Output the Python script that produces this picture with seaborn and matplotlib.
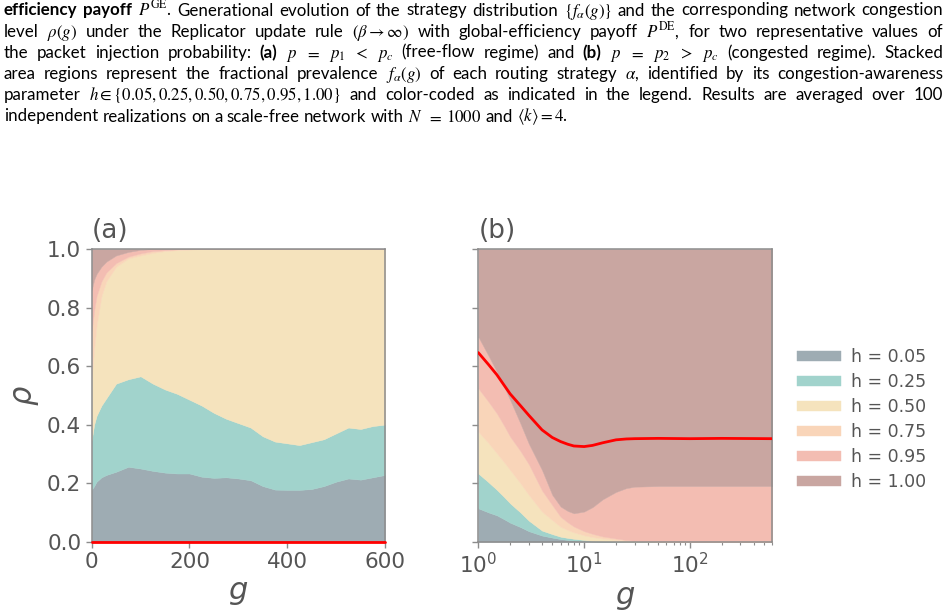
import numpy as np
import matplotlib
matplotlib.use("Agg")
import matplotlib.pyplot as plt
import seaborn as sns

# strategies (congestion-awareness h) and their colours
h_labels = ["h = 0.05", "h = 0.25", "h = 0.50", "h = 0.75", "h = 0.95", "h = 1.00"]
colors = ["#9eacb3", "#a1d3cc", "#f5e3bd", "#f9d5b9", "#f3bdb2", "#c9a6a1"]

# panel (a): p = p1 < pc, linear generations
g_a = [0, 5, 10, 20, 30, 50, 75, 100, 125, 150, 175, 200, 225, 250, 275,
       300, 325, 350, 375, 400, 425, 450, 475, 500, 525, 550, 575, 600]
# upper edge of each stacked layer (cumulative share)
top_a_005 = [0.177, 0.19, 0.205, 0.22, 0.228, 0.239, 0.256, 0.25, 0.242, 0.236, 0.233, 0.233, 0.222, 0.218,
             0.22, 0.216, 0.21, 0.19, 0.178, 0.177, 0.177, 0.18, 0.19, 0.205, 0.216, 0.212, 0.22, 0.228]
top_a_025 = [0.347, 0.40, 0.43, 0.465, 0.49, 0.54, 0.555, 0.565, 0.54, 0.52, 0.505, 0.485, 0.465, 0.44,
             0.42, 0.405, 0.39, 0.36, 0.342, 0.336, 0.33, 0.34, 0.35, 0.37, 0.39, 0.385, 0.395, 0.40]
top_a_050 = [0.56, 0.66, 0.74, 0.84, 0.89, 0.94, 0.968, 0.978, 0.987, 0.993, 0.996, 0.998, 1.0, 1.0,
             1.0, 1.0, 1.0, 1.0, 1.0, 1.0, 1.0, 1.0, 1.0, 1.0, 1.0, 1.0, 1.0, 1.0]
top_a_075 = [0.72, 0.79, 0.84, 0.89, 0.92, 0.952, 0.974, 0.985, 0.993, 0.996, 0.999, 1.0, 1.0, 1.0,
             1.0, 1.0, 1.0, 1.0, 1.0, 1.0, 1.0, 1.0, 1.0, 1.0, 1.0, 1.0, 1.0, 1.0]
top_a_095 = [0.86, 0.895, 0.915, 0.94, 0.957, 0.978, 0.99, 0.997, 1.0, 1.0, 1.0, 1.0, 1.0, 1.0,
             1.0, 1.0, 1.0, 1.0, 1.0, 1.0, 1.0, 1.0, 1.0, 1.0, 1.0, 1.0, 1.0, 1.0]
rho_a = [0.0, 0.0, 0.0, 0.0, 0.0, 0.0, 0.0, 0.0, 0.0, 0.0, 0.0, 0.0, 0.0, 0.0,
         0.0, 0.0, 0.0, 0.0, 0.0, 0.0, 0.0, 0.0, 0.0, 0.0, 0.0, 0.0, 0.0, 0.0]

# panel (b): p = p2 > pc, log generations
g_b = [1, 1.25, 1.5, 1.75, 2, 2.5, 3, 4, 5, 6, 7, 8, 10, 12, 15, 20, 25, 30, 50, 100, 200, 600]
top_b_005 = [0.114, 0.10, 0.09, 0.077, 0.065, 0.05, 0.036, 0.021, 0.014, 0.009, 0.006, 0.004, 0.002,
             0.001, 0.0, 0.0, 0.0, 0.0, 0.0, 0.0, 0.0, 0.0]
top_b_025 = [0.233, 0.203, 0.177, 0.153, 0.131, 0.10, 0.072, 0.038, 0.026, 0.017, 0.013, 0.010, 0.006,
             0.003, 0.002, 0.001, 0.0, 0.0, 0.0, 0.0, 0.0, 0.0]
top_b_050 = [0.376, 0.337, 0.302, 0.272, 0.245, 0.20, 0.16, 0.103, 0.074, 0.051, 0.04, 0.032, 0.022,
             0.016, 0.011, 0.006, 0.004, 0.002, 0.0, 0.0, 0.0, 0.0]
top_b_075 = [0.524, 0.478, 0.438, 0.397, 0.359, 0.31, 0.265, 0.175, 0.125, 0.085, 0.066, 0.052, 0.036,
             0.027, 0.018, 0.011, 0.006, 0.003, 0.001, 0.0, 0.0, 0.0]
top_b_095 = [0.70, 0.635, 0.58, 0.53, 0.484, 0.404, 0.335, 0.245, 0.16, 0.12, 0.105, 0.097, 0.103,
             0.118, 0.145, 0.17, 0.183, 0.188, 0.19, 0.19, 0.19, 0.19]
rho_b = [0.646, 0.605, 0.57, 0.535, 0.505, 0.465, 0.432, 0.382, 0.356, 0.342, 0.333, 0.327, 0.325,
         0.329, 0.338, 0.348, 0.351, 0.352, 0.353, 0.352, 0.353, 0.352]

caption_lines = [
    "**efficiency **payoff $P^{\\mathrm{GE}}$. Generational evolution of the strategy distribution "
    "$\\{f_\\alpha(g)\\}$ and the corresponding network congestion",
    "level $\\rho(g)$ under the Replicator update rule $(\\beta\\rightarrow\\infty)$ with "
    "global-efficiency payoff $P^{\\mathrm{DE}}$, for two representative values of",
    "the packet injection probability: **(a) $p$ $=$ $p_1$ $<$ $p_c$ (free-flow regime) and **(b) "
    "$p$ $=$ $p_2$ $>$ $p_c$ (congested regime). Stacked",
    "area regions represent the fractional prevalence $f_\\alpha(g)$ of each routing strategy "
    "$\\alpha$, identified by its congestion-awareness",
    "parameter $h\\in\\{0.05,0.25,0.50,0.75,0.95,1.00\\}$ and color-coded as indicated in the "
    "legend. Results are averaged over 100",
    "independent realizations on a scale-free network with $N$ $=$ $1000$ and "
    "$\\langle{k}\\rangle=4$.",
]


def layers(tops):
    edges = np.vstack([np.zeros(len(tops[0]))] + [np.asarray(t, float) for t in tops]
                      + [np.ones(len(tops[0]))])
    return np.clip(np.diff(edges, axis=0), 0, None)


sns.set_style("ticks", {"axes.edgecolor": "#8c8c8c", "xtick.color": "#8c8c8c",
                        "ytick.color": "#8c8c8c", "text.color": "#555555",
                        "axes.labelcolor": "#555555"})
plt.rcParams["font.family"] = ["DejaVu Sans"]
plt.rcParams["mathtext.fontset"] = "dejavusans"
plt.rcParams["xtick.labelcolor"] = "#555555"
plt.rcParams["ytick.labelcolor"] = "#555555"

W, H = 947, 611
fig = plt.figure(figsize=(W / 100, H / 100), dpi=100)
ax_a = fig.add_axes([91.7 / W, 1 - 541.7 / H, 293.3 / W, 292.7 / H])
ax_b = fig.add_axes([478.3 / W, 1 - 541.7 / H, 294 / W, 292.7 / H])

ax_a.stackplot(g_a, layers([top_a_005, top_a_025, top_a_050, top_a_075, top_a_095]),
               colors=colors, labels=h_labels, edgecolor="face", linewidth=0.3)
sns.lineplot(x=g_a, y=rho_a, ax=ax_a, color="red", lw=2, clip_on=False, zorder=5, legend=False)

ax_b.stackplot(g_b, layers([top_b_005, top_b_025, top_b_050, top_b_075, top_b_095]),
               colors=colors, labels=h_labels, edgecolor="face", linewidth=0.3)
sns.lineplot(x=g_b, y=rho_b, ax=ax_b, color="red", lw=2, zorder=5, legend=False)
ax_b.set_xscale("log")
if ax_a.get_legend() is not None:
    ax_a.get_legend().remove()

ax_a.set_xlim(0, 600)
ax_a.set_xticks([0, 200, 400, 600])
ax_b.set_xlim(1, 600)
for ax, tag in [(ax_a, "(a)"), (ax_b, "(b)")]:
    ax.set_ylim(0, 1)
    ax.set_yticks([0, 0.2, 0.4, 0.6, 0.8, 1.0])
    ax.tick_params(labelsize=15.5, length=4, width=1)
    ax.tick_params(which="minor", length=2.5, width=0.8)
    ax.set_title(tag, loc="left", fontsize=19, pad=8, color="#555555")
    ax.set_xlabel("$g$", fontsize=22)
    for s in ax.spines.values():
        s.set_linewidth(1.1)
        s.set_zorder(4)
ax_a.set_ylabel("$\\rho$", fontsize=22)
ax_a.set_yticklabels(["0.0", "0.2", "0.4", "0.6", "0.8", "1.0"])
ax_b.tick_params(labelleft=False)
ax_b.set_ylabel("")

ax_b.legend(loc="center left", bbox_to_anchor=(0.8254, 0.313), bbox_transform=fig.transFigure,
            frameon=False, fontsize=12.5, handlelength=2.5, handleheight=0.5,
            handletextpad=0.6, labelspacing=0.4)

# caption above the panels, justified word by word
renderer = fig.canvas.get_renderer()
x0, x1 = 4, 943
baselines = [15.5, 36.7, 57.9, 79.1, 100.3, 121.5]
for i, line in enumerate(caption_lines):
    texts = []
    for word in line.split(" "):
        bold = word.startswith("**")
        word = word[2:] if bold else word
        t = fig.text(0, 1 - baselines[i] / H, word, fontsize=12.2, va="baseline",
                     family=["Lato", "DejaVu Sans"], math_fontfamily="stix",
                     fontweight="bold" if bold else "normal", color="black")
        texts.append(t)
    widths = [t.get_window_extent(renderer).width for t in texts]
    if i < len(caption_lines) - 1:
        gap = (x1 - x0 - sum(widths)) / (len(texts) - 1)
    else:
        gap = 4.2
    x = x0
    for t, w in zip(texts, widths):
        t.set_x(x / W)
        x += w + gap

fig.savefig("out.png", dpi=100)
